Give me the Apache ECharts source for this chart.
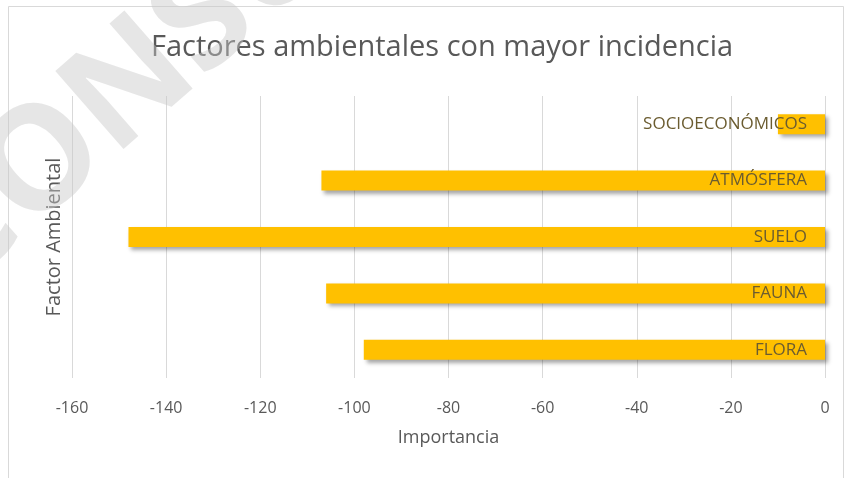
<!DOCTYPE html>
<html>
<head>
<meta charset="utf-8">
<script src="https://cdn.jsdelivr.net/npm/echarts@6/dist/echarts.min.js"></script>
<style>
  html, body { margin: 0; padding: 0; background: #ffffff; }
  #chart { width: 846px; height: 478px; }
</style>
</head>
<body>
<div id="chart"></div>
<script>
// Environmental factors, listed bottom to top
const factores = ['FLORA', 'FAUNA', 'SUELO', 'ATMÓSFERA', 'SOCIOECONÓMICOS'];
const importancia = [-98, -106, -148, -107, -10];
const ejeMin = -160;
const ejeMax = 0;
const ejePaso = 20;

const textoGris = '#595959';
const fuente = '"Open Sans", sans-serif';

const chart = echarts.init(document.getElementById('chart'), null, { renderer: 'canvas' });

chart.setOption({
  animation: false,
  backgroundColor: '#ffffff',
  title: {
    text: 'Factores ambientales con mayor incidencia',
    left: 437,
    top: 28,
    textAlign: 'center',
    textStyle: { fontFamily: fuente, fontSize: 29, fontWeight: 'normal', color: textoGris }
  },
  grid: { left: 72, right: 21, top: 96, bottom: 100, containLabel: false },
  xAxis: {
    type: 'value',
    min: ejeMin,
    max: ejeMax,
    interval: ejePaso,
    name: 'Importancia',
    nameLocation: 'middle',
    nameGap: 51,
    nameTextStyle: { fontFamily: fuente, fontSize: 18, color: textoGris },
    axisLine: { show: false },
    axisTick: { show: false },
    axisLabel: { margin: 22, fontFamily: fuente, fontSize: 16, color: textoGris },
    splitLine: { show: true, lineStyle: { color: '#d9d9d9', width: 1 } }
  },
  yAxis: {
    type: 'category',
    data: factores,
    name: 'Factor Ambiental',
    nameLocation: 'middle',
    nameGap: 8,
    nameTextStyle: { fontFamily: fuente, fontSize: 20, color: textoGris },
    axisLine: { show: false },
    axisTick: { show: false },
    axisLabel: { show: false },
    splitLine: { show: false }
  },
  series: [
    {
      type: 'bar',
      data: importancia,
      barWidth: 20,
      itemStyle: {
        color: '#ffc000',
        shadowColor: 'rgba(0,0,0,0.35)',
        shadowBlur: 4,
        shadowOffsetX: 3,
        shadowOffsetY: 3
      },
      label: {
        show: true,
        position: 'insideRight',
        distance: 18,
        formatter: '{b}',
        fontFamily: fuente,
        fontSize: 17,
        color: '#6b5c30'
      }
    }
  ],
  graphic: [
    {
      type: 'rect',
      z: -10,
      shape: { x: 8.5, y: 6.5, width: 835, height: 472 },
      style: { fill: 'none', stroke: '#d9d9d9', lineWidth: 1 }
    },
    {
      // faint diagonal watermark
      type: 'text',
      z: 100,
      x: -22,
      y: 318,
      rotation: 0.72,
      style: {
        text: 'CONSU',
        font: 'bold 145px "Open Sans", sans-serif',
        fill: 'rgba(200,200,200,0.45)',
        textVerticalAlign: 'bottom'
      }
    }
  ]
});
</script>
</body>
</html>
